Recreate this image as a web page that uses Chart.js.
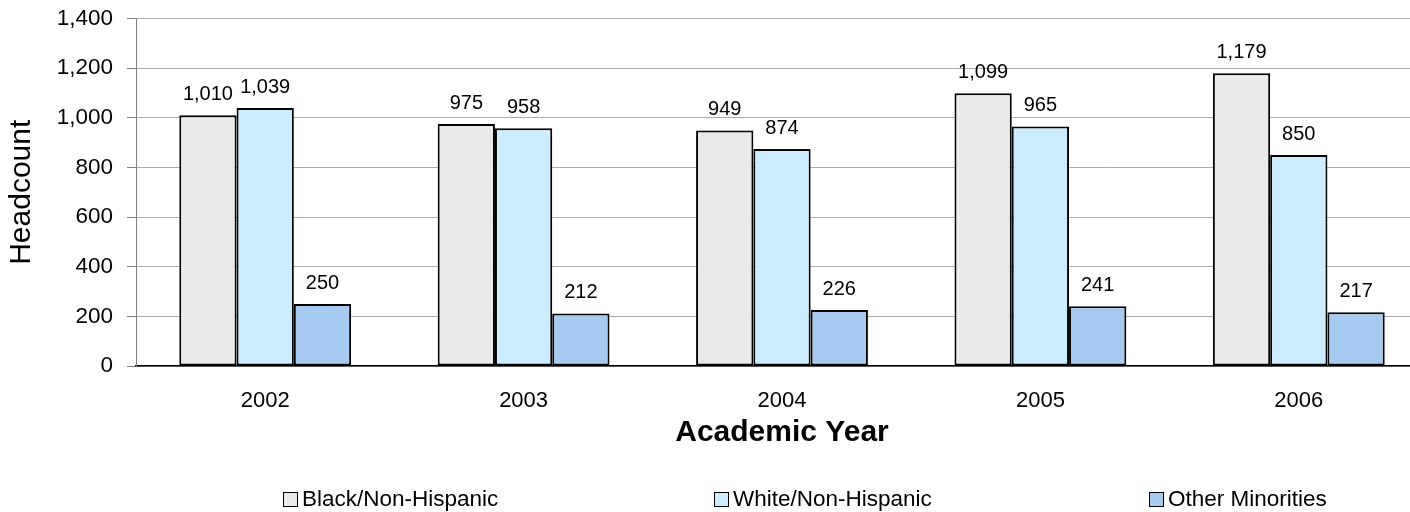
<!DOCTYPE html>
<html>
<head>
<meta charset="utf-8">
<script src="https://cdn.jsdelivr.net/npm/chart.js@4/dist/chart.umd.min.js"></script>
<style>
  body { margin: 0; background: #fff; }
  #wrap { position: relative; width: 1410px; height: 512px; overflow: hidden; }
  #legend { position: absolute; left: 0; top: 0; width: 1410px; height: 512px; pointer-events: none;
            font-family: "Liberation Sans", Arial, sans-serif; font-size: 22.5px; color: #000; }
  .item { position: absolute; top: 486px; display: flex; align-items: center; white-space: nowrap; }
  .box { width: 13px; height: 13px; border: 1.5px solid #000; margin-right: 4px; }
</style>
</head>
<body>
<div id="wrap">
  <!-- le tracé dépasse un peu à droite, comme dans l'original -->
  <canvas id="graph1" width="1428" height="512"></canvas>
  <div id="legend"></div>
</div>
<script>
// années et séries
const years = ['2002', '2003', '2004', '2005', '2006'];
const seriesNames = ['Black/Non-Hispanic', 'White/Non-Hispanic', 'Other Minorities'];
const black = [1010, 975, 949, 1099, 1179];
const white = [1039, 958, 874, 965, 850];
const others = [250, 212, 226, 241, 217];
const yTicks = [0, 200, 400, 600, 800, 1000, 1200, 1400];

const colors = ['#EAEAEA', '#CCECFF', '#A6CAF0'];
const legendLeft = [283, 714, 1149];

const FONT = '"Liberation Sans", Arial, sans-serif';
const fmt = v => v.toLocaleString('en-US');

const datasets = [black, white, others].map((values, i) => ({
    label: seriesNames[i],
    data: values,
    backgroundColor: colors[i],
    borderColor: '#000',
    borderWidth: 2,
    borderSkipped: false,
    categoryPercentage: 0.665,
    barPercentage: 1,
}));

// étiquettes de valeur au-dessus des barres
const valueLabels = {
    id: 'valueLabels',
    afterDatasetsDraw(chart) {
        const ctx = chart.ctx;
        ctx.save();
        ctx.font = '20px ' + FONT;
        ctx.fillStyle = '#000';
        ctx.textAlign = 'center';
        ctx.textBaseline = 'alphabetic';
        chart.data.datasets.forEach((ds, i) => {
            chart.getDatasetMeta(i).data.forEach((bar, j) => {
                ctx.fillText(fmt(ds.data[j]), bar.x, bar.y - 15);
            });
        });
        ctx.restore();
    }
};

new Chart(document.getElementById('graph1'), {
    type: 'bar',
    data: { labels: years, datasets: datasets },
    plugins: [valueLabels],
    options: {
        responsive: false,
        animation: false,
        devicePixelRatio: 1,
        layout: { padding: { top: 18.5, right: 0, bottom: 61.6, left: 0 } },
        plugins: { legend: { display: false }, tooltip: { enabled: false } },
        scales: {
            x: {
                afterFit: scale => { scale.height = 84.4; },
                grid: { display: false, drawTicks: false },
                border: { display: true, color: '#000', width: 1.5 },
                ticks: { color: '#000', padding: 22, font: { family: FONT, size: 22 } },
                title: { display: true, text: 'Academic Year', color: '#000', padding: { top: 0, bottom: 0 },
                         font: { family: FONT, size: 30, weight: 'bold' } },
            },
            y: {
                min: 0,
                max: 1400,
                afterBuildTicks: scale => { scale.ticks = yTicks.map(v => ({ value: v })); },
                afterFit: scale => {
                    scale.width = 136;
                    scale.paddingTop = 0;
                    scale.paddingBottom = 0;
                },
                grid: { color: '#ababab', lineWidth: 1, tickLength: 9, tickColor: '#808080' },
                border: { color: '#808080', width: 1 },
                ticks: { color: '#000', padding: 14, font: { family: FONT, size: 22.5 }, callback: v => fmt(v) },
                title: { display: true, text: 'Headcount', color: '#000', padding: { top: 4, bottom: 0 },
                         font: { family: FONT, size: 30 } },
            },
        },
    },
});

// légende
const legend = document.getElementById('legend');
seriesNames.forEach((name, i) => {
    const item = document.createElement('div');
    item.className = 'item';
    item.style.left = legendLeft[i] + 'px';
    item.innerHTML = '<div class="box" style="background:' + colors[i] + '"></div><span>' + name + '</span>';
    legend.appendChild(item);
});
</script>
</body>
</html>
